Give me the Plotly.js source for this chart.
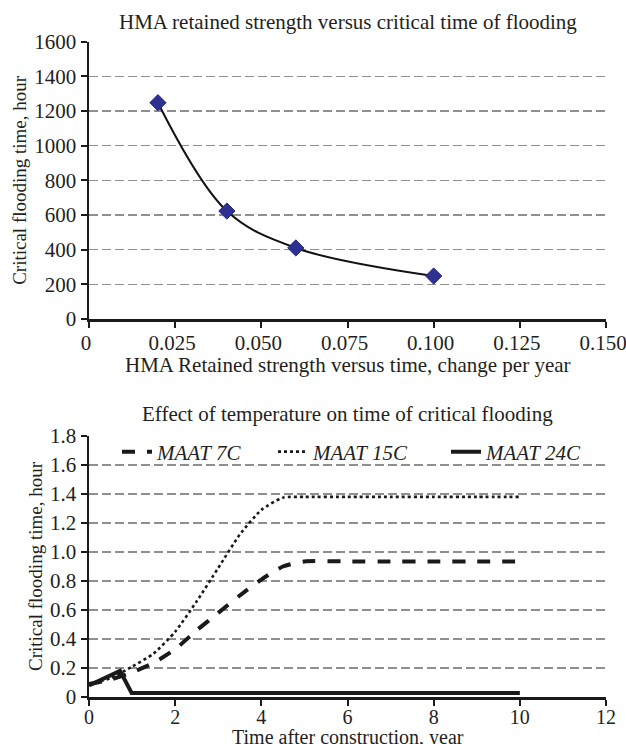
<!DOCTYPE html>
<html>
<head>
<meta charset="utf-8">
<script src="https://cdn.plot.ly/plotly-3.0.1.min.js"></script>
<style>html,body{margin:0;padding:0;background:#fff;}#chart{width:626px;height:744px;}</style>
</head>
<body>
<div id="chart"></div>
<script>
// Top chart data
const rateX = [0.02, 0.04, 0.06, 0.1];
const floodHours = [1248, 623, 410, 248];
const topXTicks = [0, 0.025, 0.05, 0.075, 0.1, 0.125, 0.15];
const topXTickText = ["0", "0.025", "0.050", "0.075", "0.100", "0.125", "0.150"];
const topYTicks = [0, 200, 400, 600, 800, 1000, 1200, 1400, 1600];

// Bottom chart data
const yearsA = [0, 0.5, 1, 1.5, 2, 2.5, 3, 3.5, 4, 4.5, 5, 6, 7, 8, 9, 10];
const maat7 = [0.09, 0.12, 0.17, 0.235, 0.33, 0.46, 0.58, 0.70, 0.81, 0.90, 0.935, 0.935, 0.935, 0.935, 0.935, 0.935];
const maat15 = [0.09, 0.13, 0.21, 0.30, 0.45, 0.66, 0.89, 1.12, 1.29, 1.375, 1.38, 1.38, 1.38, 1.38, 1.38, 1.38];
const yearsB = [0, 0.72, 0.99, 10];
const maat24 = [0.08, 0.18, 0.028, 0.028];
const botXTicks = [0, 2, 4, 6, 8, 10, 12];
const botYTicks = [0, 0.2, 0.4, 0.6, 0.8, 1.0, 1.2, 1.4, 1.6, 1.8];
const botYTickText = ["0", "0.2", "0.4", "0.6", "0.8", "1.0", "1.2", "1.4", "1.6", "1.8"];
const seriesNames = ["<i>MAAT 7C</i>", "<i>MAAT 15C</i>", "<i>MAAT 24C</i>"];

const FONT = "Liberation Serif, Times New Roman, serif";
const TXT = "#231f20";
const W = 626, H = 744, L = 89, R = 20;
const px = v => (v - L) / (W - L - R);
const py = v => (H - v) / H;

const traces = [
  {x: rateX, y: floodHours, xaxis: 'x', yaxis: 'y', mode: 'lines', type: 'scatter',
   line: {color: '#111', width: 2, shape: 'spline', smoothing: 1}, showlegend: false, hoverinfo: 'skip'},
  {x: rateX, y: floodHours, xaxis: 'x', yaxis: 'y', mode: 'markers', type: 'scatter',
   marker: {symbol: 'diamond', size: 12.5, color: '#2e3192', line: {color: '#262a80', width: 1}}, showlegend: false},
  {x: yearsA, y: maat7, xaxis: 'x2', yaxis: 'y2', mode: 'lines', type: 'scatter', name: seriesNames[0], legend: 'legend',
   line: {color: '#1a1a1a', width: 4, dash: '13px,12px', shape: 'spline', smoothing: 0.6}},
  {x: yearsA, y: maat15, xaxis: 'x2', yaxis: 'y2', mode: 'lines', type: 'scatter', name: seriesNames[1], legend: 'legend2',
   line: {color: '#1a1a1a', width: 2.6, dash: 'dot', shape: 'spline', smoothing: 0.6}},
  {x: yearsB, y: maat24, xaxis: 'x2', yaxis: 'y2', mode: 'lines', type: 'scatter', name: seriesNames[2], legend: 'legend3',
   line: {color: '#1a1a1a', width: 4}}
];

const axisCommon = {
  showline: true, linecolor: '#1a1a1a', linewidth: 2.5, ticks: 'outside', ticklen: 6, tickwidth: 2, tickcolor: '#1a1a1a',
  zeroline: false, tickfont: {family: FONT, size: 21, color: TXT}, ticklabeloverflow: 'allow'
};
const gridStyle = {showgrid: true, gridcolor: '#8f8f8f', gridwidth: 1.2, griddash: '9px,4px'};
const legendBase = {orientation: 'h', yanchor: 'middle', xanchor: 'left', bgcolor: 'rgba(0,0,0,0)',
  font: {family: FONT, size: 21, color: TXT}, borderwidth: 0};
const ttlFont = {family: FONT, size: 21, color: TXT};
const yTtlFont = {family: FONT, size: 19, color: TXT};

const layout = {
  width: W, height: H,
  margin: {l: L, r: R, t: 0, b: 0},
  paper_bgcolor: '#fff', plot_bgcolor: '#fff',
  font: {family: FONT, color: TXT},
  showlegend: true,
  legend: Object.assign({}, legendBase, {x: px(117), y: py(452)}),
  legend2: Object.assign({}, legendBase, {x: px(273), y: py(452)}),
  legend3: Object.assign({}, legendBase, {x: px(446), y: py(452)}),
  xaxis: Object.assign({}, axisCommon, {
    domain: [0, 1], anchor: 'y', range: [0, 0.15], tickvals: topXTicks, ticktext: topXTickText,
    showgrid: false, ticklabelshift: -3, ticklabelstandoff: -3
  }),
  yaxis: Object.assign({}, axisCommon, gridStyle, {
    domain: [py(319), py(41.7)], anchor: 'x', range: [0, 1600], tickvals: topYTicks,
    title: {text: 'Critical flooding time, hour', font: yTtlFont, standoff: 3}
  }),
  xaxis2: Object.assign({}, axisCommon, {
    domain: [0, 1], anchor: 'y2', range: [0, 12], tickvals: botXTicks,
    showgrid: false, ticklabelstandoff: -6, tickfont: {family: FONT, size: 20, color: TXT}
  }),
  yaxis2: Object.assign({}, axisCommon, gridStyle, {
    domain: [py(697), py(436)], anchor: 'x2', range: [0, 1.8], tickvals: botYTicks, ticktext: botYTickText,
    title: {text: 'Critical flooding time, hour', font: yTtlFont, standoff: 3}
  }),
  annotations: [
    {text: 'HMA retained strength versus critical time of flooding', xref: 'paper', yref: 'paper',
     x: 0.5, y: py(22), xanchor: 'center', yanchor: 'middle', showarrow: false, font: ttlFont},
    {text: 'HMA Retained strength versus time, change per year', xref: 'paper', yref: 'paper',
     x: 0.5, y: py(365), xanchor: 'center', yanchor: 'middle', showarrow: false, font: ttlFont},
    {text: 'Effect of temperature on time of critical flooding', xref: 'paper', yref: 'paper',
     x: 0.5, y: py(414), xanchor: 'center', yanchor: 'middle', showarrow: false, font: ttlFont},
    {text: 'Time after construction, year', xref: 'paper', yref: 'paper',
     x: 0.5, y: py(737), xanchor: 'center', yanchor: 'middle', showarrow: false,
     font: {family: FONT, size: 20, color: TXT}}
  ]
};

Plotly.newPlot('chart', traces, layout, {displayModeBar: false, staticPlot: true});
</script>
</body>
</html>
